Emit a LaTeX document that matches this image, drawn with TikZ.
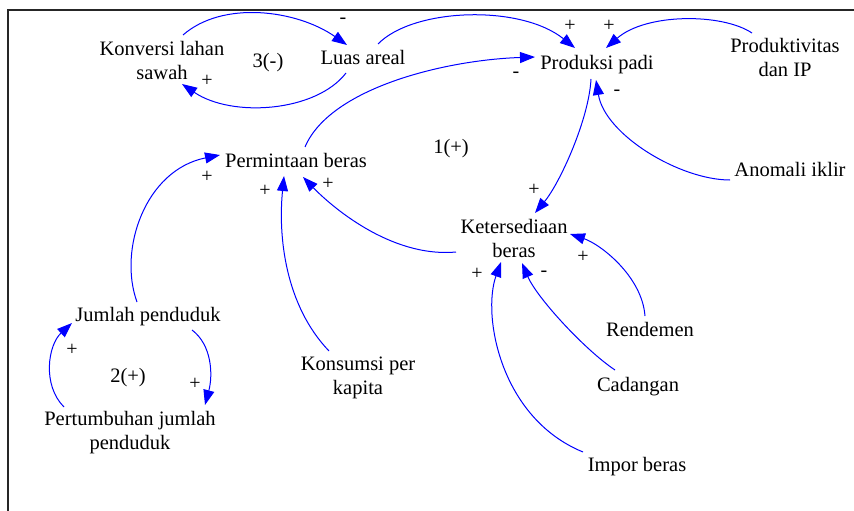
\documentclass[tikz,border=0pt]{standalone}
\usepackage{fontspec}
\setmainfont{Liberation Serif}
\usetikzlibrary{arrows.meta}
\begin{document}
\begin{tikzpicture}[x=1pt,y=-1pt,
  lbl/.style={inner sep=0pt,anchor=base,align=center,font=\fontsize{20.5}{24}\selectfont},
  pol/.style={inner sep=0pt,anchor=center,font=\fontsize{20}{24}\selectfont},
  arr/.style={draw=blue,line width=1pt,-{Triangle[length=15pt,width=11pt]},fill=none},
  frame/.style={line width=2pt,draw=black!85}]
\path[use as bounding box] (0,0) rectangle (854,511);
\draw[frame] (8,511) -- (8,10) -- (854,10);
% nodes (anchor base = baseline of the last line)
\node[lbl] (kons)  at (162,79)  {Konversi lahan\\sawah};
\node[lbl] (luas)  at (363,65)  {Luas areal};
\node[lbl] (prod)  at (597,70)  {Produksi padi};
\node[lbl] (prodk) at (785,77)  {Produktivitas\\dan IP};
\node[lbl] (anom)  at (790,176) {Anomali iklir};
\node[lbl] (perm)  at (296,167) {Permintaan beras};
\node[lbl] (ket)   at (514,257) {Ketersediaan\\beras};
\node[lbl] (rend)  at (650,336) {Rendemen};
\node[lbl] (cad)   at (638,391) {Cadangan};
\node[lbl] (impor) at (637,471) {Impor beras};
\node[lbl] (jum)   at (148,321) {Jumlah penduduk};
\node[lbl] (pert)  at (130,449) {Pertumbuhan jumlah\\penduduk};
\node[lbl] (konsum) at (358,394) {Konsumsi per\\kapita};
\node[lbl] (loopc) at (268,67)  {3(-)};
\node[lbl] (loopa) at (451,153) {1(+)};
\node[lbl] (loopb) at (128,382) {2(+)};
% connectors
\draw[arr] ([shift={(21,-44)}]kons.base) .. controls +(40,-35) and +(-50,-35) .. ([shift={(-16,-20)}]luas.base);
\draw[arr] ([shift={(-17,8)}]luas.base) .. controls +(-30,39) and +(50,34) .. ([shift={(20,5)}]kons.base);
\draw[arr] ([shift={(15,-21)}]luas.base) .. controls +(35,-36) and +(-55,-44) .. ([shift={(-22,-22)}]prod.base);
\draw[arr] ([shift={(9,-20)}]perm.base) .. controls +(25,-59) and +(-90,3) .. ([shift={(-62,-13)}]prod.base);
\draw[arr] ([shift={(-33,-44)}]prodk.base) .. controls +(-30,-20) and +(40,-35) .. ([shift={(9,-22)}]prod.base);
\draw[arr] ([shift={(-60,4)}]anom.base) .. controls +(-50,0) and +(9,55) .. ([shift={(-1,10)}]prod.base);
\draw[arr] ([shift={(-6,9)}]prod.base) .. controls +(-2,40) and +(25,-30) .. ([shift={(21,-44)}]ket.base);
\draw[arr] ([shift={(-58,-5)}]ket.base) .. controls +(-66,6) and +(27,28) .. ([shift={(7,10)}]perm.base);
\draw[arr] ([shift={(-29,-43)}]konsum.base) .. controls +(-44,-46) and +(-6,60) .. ([shift={(-12,9)}]perm.base);
\draw[arr] ([shift={(-11,-19)}]jum.base) .. controls +(-19,-52) and +(-75,15) .. ([shift={(-76,-12)}]perm.base);
\draw[arr] ([shift={(44,9)}]jum.base) .. controls +(20,15) and +(8,-30) .. ([shift={(75,-44)}]pert.base);
\draw[arr] ([shift={(-66,-42)}]pert.base) .. controls +(-22,-22) and +(-24,22) .. ([shift={(-76,2)}]jum.base);
\draw[arr] ([shift={(-5,-20)}]rend.base) .. controls +(-3,-40) and +(30,10) .. ([shift={(56,-23)}]ket.base);
\draw[arr] ([shift={(-23,-21)}]cad.base) .. controls +(-30,-20) and +(15,35) .. ([shift={(8,6)}]ket.base);
\draw[arr] ([shift={(-54,-19)}]impor.base) .. controls +(-83,-34) and +(-19,53) .. ([shift={(-13,5)}]ket.base);
% polarities
\node[pol] (p1)  at (343,21)  {-};
\node[pol] (p2)  at (207,81)  {+};
\node[pol] (p3)  at (570,26)  {+};
\node[pol] (p4)  at (516,75)  {-};
\node[pol] (p5)  at (609,26)  {+};
\node[pol] (p6)  at (617,93)  {-};
\node[pol] (p7)  at (534,190) {+};
\node[pol] (p8)  at (328,184) {+};
\node[pol] (p9)  at (265,191) {+};
\node[pol] (p10) at (207,177) {+};
\node[pol] (p11) at (195,384) {+};
\node[pol] (p12) at (72,350)  {+};
\node[pol] (p13) at (583,257) {+};
\node[pol] (p14) at (544,274) {-};
\node[pol] (p15) at (477,274) {+};
\end{tikzpicture}
\end{document}
